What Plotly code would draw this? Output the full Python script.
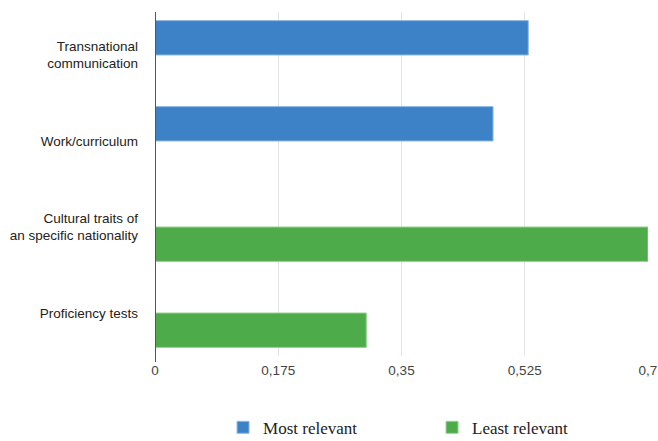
import plotly.graph_objects as go

categories = ["Transnational<br>communication", "Work/curriculum",
              "Cultural traits of<br>an specific nationality", "Proficiency tests"]
most_relevant = [0.53, 0.48, 0, 0]
least_relevant = [0, 0, 0.7, 0.3]
tick_vals = [0, 0.175, 0.35, 0.525, 0.7]

fig = go.Figure()
fig.add_trace(go.Bar(y=categories, x=most_relevant, orientation="h", name="Most relevant",
                     marker=dict(color="#3d82c7", line=dict(color="#8fbbe6", width=1))))
fig.add_trace(go.Bar(y=categories, x=least_relevant, orientation="h", name="Least relevant",
                     marker=dict(color="#4dab4a", line=dict(color="#96d38f", width=1))))

fig.update_layout(
    width=658, height=441,
    margin=dict(l=155, r=10, t=12, b=85, autoexpand=False),
    paper_bgcolor="white", plot_bgcolor="white",
    barmode="group", bargap=0.2, bargroupgap=0,
    separators=",.",
    font=dict(family="Liberation Sans, Arial, sans-serif", size=14, color="#333333"),
    xaxis=dict(range=[0, 0.7], tickvals=tick_vals, showgrid=True, gridcolor="#e3e3e3",
               gridwidth=1, zeroline=False, showline=False, ticks="", automargin=False,
               ticklabelstandoff=4, tickfont=dict(size=13.5, color="#444444")),
    yaxis=dict(autorange="reversed", showline=False, ticks="", ticklabelstandoff=16,
               automargin=False, tickfont=dict(size=13.5, color="#222222")),
    legend=dict(orientation="h", x=0.138, xanchor="left", xref="paper",
                y=0.03, yanchor="middle", yref="container",
                font=dict(family="Liberation Serif, Times New Roman, serif", size=17, color="#222222"),
                itemwidth=30, traceorder="normal", entrywidth=164),
    showlegend=True,
)
fig.add_shape(type="line", xref="x", yref="paper", x0=0, x1=0, y0=0 - 6/344, y1=1,
              line=dict(color="#555555", width=2))

fig.write_html("out.html")
